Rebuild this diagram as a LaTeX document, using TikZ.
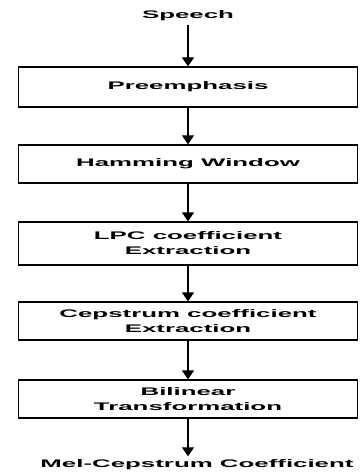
\documentclass[tikz,border=0pt]{standalone}
\usepackage{fontspec}
\newfontfamily\flowfont{Liberation Sans}[FakeStretch=2.35]
\usetikzlibrary{arrows.meta}
\tikzset{
	stage/.style={draw,line width=1.2pt,minimum width=339pt,minimum height=38pt,align=center,inner sep=0pt},
	flow/.style={line width=1.2pt,-{Triangle[width=12pt,length=9pt]}}
}
\begin{document}
\begin{tikzpicture}[x=1pt,y=-1pt,font=\flowfont\bfseries\fontsize{11}{15}\selectfont]
	\useasboundingbox (0,0) rectangle (359,473);
	\node (speech) at (188,16) {Speech};
	\node[stage,minimum height=40pt] (pre) at (188,87) {Preemphasis};
	\node[stage] (ham) at (188,164) {Hamming Window};
	\node[stage,minimum height=43pt] (lpc) at (188,243.5) {LPC coefficient\\Extraction};
	\node[stage] (cep) at (188,321) {Cepstrum coefficient\\Extraction};
	\node[stage] (bil) at (188,399) {Bilinear\\Transformation};
	\node (mel) at (197,465) {Mel-Cepstrum Coefficient};
	\draw[flow] (speech) -- (pre);
	\draw[flow] (pre) -- (ham);
	\draw[flow] (ham) -- (lpc);
	\draw[flow] (lpc) -- (cep);
	\draw[flow] (cep) -- (bil);
	\draw[flow] (bil) -- (bil|-mel.north);
\end{tikzpicture}
\end{document}
